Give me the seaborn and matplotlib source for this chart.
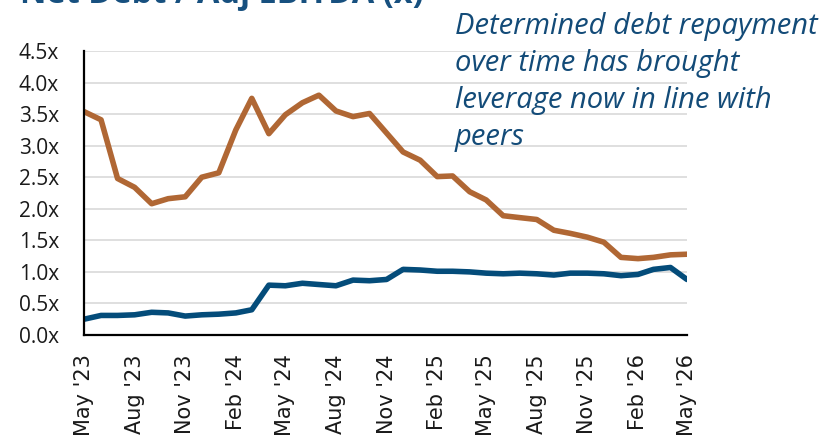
import pandas as pd
import matplotlib
matplotlib.use("Agg")
import matplotlib.pyplot as plt
import seaborn as sns

# monthly values, May '23 .. May '26
months = pd.date_range("2023-05-01", periods=37, freq="MS")
company = [3.54, 3.41, 2.48, 2.34, 2.08, 2.16, 2.19, 2.50, 2.57, 3.25,
           3.75, 3.19, 3.49, 3.68, 3.80, 3.55, 3.46, 3.51, 3.20, 2.90,
           2.77, 2.51, 2.52, 2.27, 2.14, 1.89, 1.86, 1.83, 1.66, 1.61,
           1.55, 1.47, 1.23, 1.21, 1.23, 1.27, 1.28]
peers = [0.25, 0.31, 0.31, 0.32, 0.36, 0.35, 0.30, 0.32, 0.33, 0.35,
         0.40, 0.79, 0.78, 0.82, 0.80, 0.78, 0.87, 0.86, 0.88, 1.04,
         1.03, 1.01, 1.01, 1.00, 0.98, 0.97, 0.98, 0.97, 0.95, 0.98,
         0.98, 0.97, 0.94, 0.96, 1.04, 1.07, 0.88]
tick_labels = ["May '23", "Aug '23", "Nov '23", "Feb '24", "May '24", "Aug '24",
               "Nov '24", "Feb '25", "May '25", "Aug '25", "Nov '25", "Feb '26",
               "May '26"]
y_ticks = [0.0, 0.5, 1.0, 1.5, 2.0, 2.5, 3.0, 3.5, 4.0, 4.5]

df = pd.concat([
    pd.DataFrame({"month": months, "value": company, "series": "Company"}),
    pd.DataFrame({"month": months, "value": peers, "series": "Peers"}),
])

sns.set_theme(style="white")
plt.rcParams["font.family"] = ["Open Sans", "DejaVu Sans"]

fig = plt.figure(figsize=(8.25, 4.37), dpi=100)
ax = fig.add_axes([0.1018, 0.2334, 0.7309, 0.6499])

ax.grid(axis="y", color="#D9D9D9", linewidth=1.2)
ax.set_axisbelow(True)

sns.lineplot(data=df, x="month", y="value", hue="series",
             palette={"Company": "#B06734", "Peers": "#044C7A"},
             linewidth=4.0, legend=False, ax=ax)

ax.set_ylim(0, 4.5)
ax.set_yticks(y_ticks)
ax.set_yticklabels([f"{v:.1f}x" for v in y_ticks], fontsize=15, color="#1a1a1a")
ax.set_xlim(months[0], months[-1])
ax.set_xticks(months[::3])
ax.set_xticklabels(tick_labels, rotation=90, fontsize=15,
                   family="DejaVu Sans", color="#1a1a1a")
ax.tick_params(axis="both", length=0)
ax.tick_params(axis="y", pad=18)
ax.tick_params(axis="x", pad=14)
ax.set_xlabel("")
ax.set_ylabel("")

for side in ["top", "right"]:
    ax.spines[side].set_visible(False)
for side in ["left", "bottom"]:
    ax.spines[side].set_color("black")
    ax.spines[side].set_linewidth(1.6)

# title is partly cut off at the top edge, as in the source image
fig.text(0.024, 0.992, "Net Debt / Adj EBITDA (x)", fontsize=23.5,
         fontweight="bold", color="#17507F", va="baseline")
fig.text(0.5515, 0.668,
         "Determined debt repayment\nover time has brought\nleverage now in line with\npeers",
         fontsize=21, style="italic", color="#134B78", va="baseline",
         linespacing=1.37)

fig.savefig("out.png", dpi=100)
